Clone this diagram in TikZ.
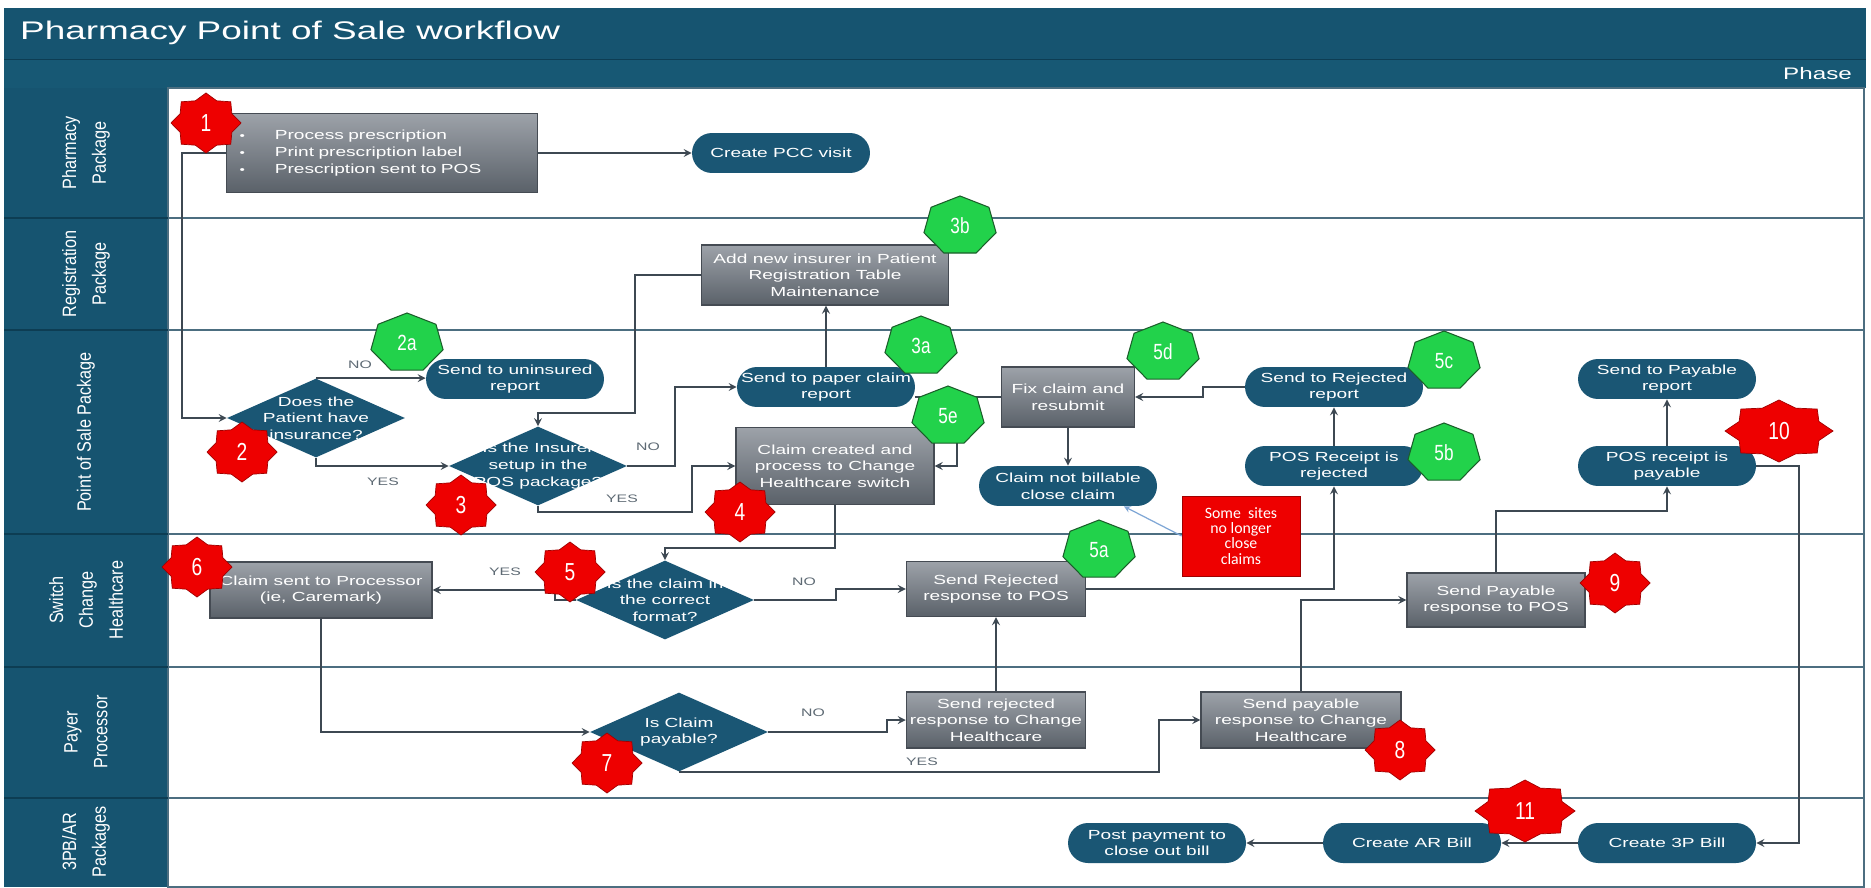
\documentclass[tikz,border=0pt]{standalone}
\usepackage{fontspec}
\setmainfont{Liberation Sans}[FakeStretch=1.45]
\newfontfamily\titlefont{Liberation Sans}[FakeStretch=1.45]
\newfontfamily\lanefont{Liberation Sans}[FakeStretch=0.84]
\newfontfamily\badgefont{Liberation Sans}[FakeStretch=0.78]
\newfontfamily\notefont{Carlito}
\usetikzlibrary{shapes.geometric}

\definecolor{bandteal}{HTML}{165470}
\definecolor{phaseteal}{HTML}{175874}
\definecolor{nodeteal}{HTML}{1A5674}
\definecolor{laneline}{HTML}{4C6E80}
\definecolor{headline}{HTML}{0D3D53}
\definecolor{boxtop}{HTML}{9DA2A9}
\definecolor{boxbot}{HTML}{5A6169}
\definecolor{boxline}{HTML}{454B53}
\definecolor{linec}{HTML}{3D4852}
\definecolor{yesnogray}{HTML}{5E6A74}
\definecolor{badgered}{HTML}{EE0000}
\definecolor{redline}{HTML}{A00000}
\definecolor{badgegreen}{HTML}{22D24B}
\definecolor{greenline}{HTML}{1B5E2A}
\definecolor{notblue}{HTML}{7FA7D6}

\newcommand\flowtext{\fontsize{7.5}{9.5}\selectfont}
\newcommand\flowsmall{\fontsize{6.2}{8}\selectfont}
\newcommand\lanetext{\lanefont\fontsize{11}{17}\selectfont}
\newcommand\titletext{\titlefont\fontsize{14.5}{16}\selectfont}
\newcommand\phasetext{\titlefont\fontsize{9.5}{11}\selectfont}
\newcommand\redtext{\badgefont\fontsize{14}{14}\selectfont}
\newcommand\greentext{\badgefont\fontsize{12.5}{12.5}\selectfont}
\newcommand\notetext{\notefont\fontsize{9}{8.6}\selectfont}
\newcommand\pbullet{{\fontsize{6}{6}\selectfont\textbullet}\hspace{0.6cm}}

% red 8 point star: name, centre, x radius, y radius, number
\newcommand\redstar[5]{%
  \fill[badgered, draw=redline, line width=0.4pt, shift={(#2)}] (270:#3 and #4)
    \foreach \k [evaluate=\k as \ang using {270+\k*22.5},
                 evaluate=\k as \fr using {1-0.2*mod(\k,2)}] in {1,...,15}
      { -- (\ang:\fr*#3 and \fr*#4) } -- cycle;
  \node[text=white, font=\redtext] (#1) at (#2) {#5};}

% green heptagon: name, centre, text
\newcommand\greenhept[3]{%
  \fill[badgegreen, draw=greenline, line width=0.6pt, shift={(#2)}] (270:37 and 30)
    \foreach \k [evaluate=\k as \ang using {270+\k*360/7}] in {1,...,6}
      { -- (\ang:37 and 30) } -- cycle;
  \node[text=white, font=\greentext] (#1) at (#2) {#3};}

\begin{document}
\begin{tikzpicture}[x=0.02cm, y=-0.02cm,
    flow/.style={draw=linec, line width=1pt, -stealth},
    plainline/.style={draw=linec, line width=1pt},
    procbox/.style={rectangle, draw=boxline, line width=0.8pt, top color=boxtop,
        bottom color=boxbot, text=white, font=\flowtext, align=center, inner sep=2pt},
    termnode/.style={rectangle, rounded corners=0.4cm, fill=nodeteal, text=white,
        font=\flowtext, align=center, minimum width=3.56cm, minimum height=0.8cm, inner sep=1pt},
    decision/.style={diamond, fill=nodeteal, minimum width=3.56cm, minimum height=1.58cm, inner sep=0pt},
    dectext/.style={text=white, font=\flowtext, align=center},
    yesno/.style={text=yesnogray, font=\flowsmall},
    lanelabel/.style={rotate=90, text=white, font=\lanetext, align=center},
    notebox/.style={rectangle, fill=badgered, draw=redline, line width=0.4pt, text=white,
        font=\notetext, align=center, minimum width=2.36cm, minimum height=1.6cm, inner sep=1pt},
    notearrow/.style={draw=notblue, line width=0.7pt, -stealth}]

    \useasboundingbox (0,0) rectangle (1871,888);
    \fill[white] (0,0) rectangle (1871,888);

    \fill[bandteal] (4,8) rectangle (1866,59);
    \fill[phaseteal] (4,60) rectangle (1866,88);
    \draw[headline, line width=0.8pt] (4,59.5) -- (1866,59.5);
    \fill[bandteal] (4,88) rectangle (168,887);
    \draw[laneline, line width=1.2pt] (168,88) rectangle (1864,887);
    \node[anchor=west, text=white, font=\titletext] (title) at (14,33) {Pharmacy Point of Sale workflow};
    \node[anchor=east, text=white, font=\phasetext] (phase) at (1858,74) {Phase};

    \foreach \yl in {218, 330, 534, 667, 798}
        { \draw[laneline, line width=1.4pt] (168, \yl) -- (1864, \yl);
          \draw[headline, line width=1.4pt] (4, \yl) -- (168, \yl);}

    \foreach \yc/\txt [count=\i] in {153/{Pharmacy\\Package}, 274/{Registration\\Package},
            432/{Point of Sale Package}, 600/{Switch\\Change\\Healthcare},
            732/{Payer\\Processor}, 842/{3PB/AR\\Packages}}
        \node[lanelabel] (lane\i) at (86, \yc) {\txt};

    % Pharmacy Package
    \node[procbox, minimum height=1.58cm, text width=5.7cm, inner xsep=0.26cm, align=left] (presc) at (382,153)
        {\pbullet Process prescription\\ \pbullet Print prescription label\\ \pbullet Prescription sent to POS};
    \node[termnode] (pcc) at (781,153) {Create PCC visit};

    % Registration Package
    \node[procbox, minimum width=4.94cm, minimum height=1.2cm] (newins) at (825,275)
        {Add new insurer in Patient\\Registration Table\\Maintenance};

    % Point of Sale Package
    \node[decision, label={[dectext]center:{Does the\\Patient have\\insurance?}}] (insured) at (316,418) {};
    \node[termnode] (uninsured) at (515,379) {Send to uninsured\\report};
    \node[decision, label={[dectext]center:{Is the Insurer\\setup in the\\POS package?}}] (setup) at (538,466) {};
    \node[termnode] (paper) at (826,387) {Send to paper claim\\report};
    \node[procbox, minimum width=3.96cm, minimum height=1.54cm] (created) at (835,466)
        {Claim created and\\process to Change\\Healthcare switch};
    \node[procbox, minimum width=2.66cm, minimum height=1.2cm] (fix) at (1068,397) {Fix claim and\\resubmit};
    \node[termnode] (notbill) at (1068,486) {Claim not billable\\close claim};
    \node[termnode] (rejrep) at (1334,387) {Send to Rejected\\report};
    \node[termnode] (posrej) at (1334,466) {POS Receipt is\\rejected};
    \node[termnode] (payrep) at (1667,379) {Send to Payable\\report};
    \node[termnode] (payable) at (1667,466) {POS receipt is\\payable};
    \node[notebox] (note) at (1241,536) {Some\ \ sites\\no longer\\close\\claims};

    % Switch Change Healthcare
    \node[procbox, minimum width=4.44cm, minimum height=1.12cm] (sent) at (321,590)
        {Claim sent to Processor\\(ie, Caremark)};
    \node[decision, label={[dectext]center:{Is the claim in\\the correct\\format?}}] (format) at (665,600) {};
    \node[procbox, minimum width=3.58cm, minimum height=1.1cm] (rejresp) at (996,589) {Send Rejected\\response to POS};
    \node[procbox, minimum width=3.56cm, minimum height=1.08cm] (paypos) at (1496,600) {Send Payable\\response to POS};

    % Payer Processor
    \node[decision, label={[dectext]center:{Is Claim\\payable?}}] (claimpay) at (679,732) {};
    \node[procbox, minimum width=3.58cm, minimum height=1.12cm] (rejchg) at (996,720)
        {Send rejected\\response to Change\\Healthcare};
    \node[procbox, minimum width=4cm, minimum height=1.12cm] (paychg) at (1301,720)
        {Send payable\\response to Change\\Healthcare};

    % 3PB/AR Packages
    \node[termnode] (postpay) at (1157,843) {Post payment to\\close out bill};
    \node[termnode] (arbill) at (1412,843) {Create AR Bill};
    \node[termnode] (bill3p) at (1667,843) {Create 3P Bill};

    % connectors
    \draw[flow] (presc.east) -- (presc.east -| pcc.west);
    \draw[flow] (presc.west) -- ++(-44,0) |- (insured.west);
    \draw[flow] (insured.north) -- (insured.north -| uninsured.west);
    \draw[flow] (insured.south) |- (setup.west);
    \draw[flow] (newins.west) -| (635,413) -| (setup.north);
    \draw[flow] (setup.east) -- ++(48,0) |- (paper.west);
    \draw[flow] (setup.south) |- (692,512) |- (created.west);
    \draw[flow] (paper.north) -- (paper.north |- newins.south);
    \draw[plainline] (fix.west) -- (paper.east |- fix.west);
    \draw[flow] (fix.west) -- ++(-44,0) |- (created.east);
    \draw[flow] (fix.south) -- (notbill.north);
    \draw[flow] (rejrep.west) -- ++(-42,0) |- (fix.east);
    \draw[flow] (posrej.north) -- (rejrep.south);
    \draw[flow] (payable.north) -- (payrep.south);
    \draw[notearrow] (note.west) -- (notbill.-20);
    \draw[flow] (created.south) -- ++(0,43) -| (format.north);
    \draw[flow] (format.west) -- ++(-21,0) |- (sent.east);
    \draw[flow] (format.east) -- ++(82,0) |- (rejresp.west);
    \draw[flow] (rejresp.east) -| (posrej.south);
    \draw[flow] (paypos.north) -- ++(0,-61) -| (payable.south);
    \draw[flow] (sent.south) |- (claimpay.west);
    \draw[flow] (claimpay.east) -- ++(119,0) |- (rejchg.west);
    \draw[flow] (claimpay.south) -- ++(480,0) |- (paychg.west);
    \draw[flow] (rejchg.north) -- (rejresp.south);
    \draw[flow] (paychg.north) |- (paypos.west);
    \draw[flow] (payable.east) -- ++(43,0) |- (bill3p.east);
    \draw[flow] (bill3p.west) -- (arbill.east);
    \draw[flow] (arbill.west) -- (postpay.east);

    \node[yesno] (no1) at (360,365) {NO};
    \node[yesno] (yes1) at (383,482) {YES};
    \node[yesno] (no2) at (648,447) {NO};
    \node[yesno] (yes2) at (622,499) {YES};
    \node[yesno] (yes3) at (505,572) {YES};
    \node[yesno] (no3) at (804,582) {NO};
    \node[yesno] (no4) at (813,713) {NO};
    \node[yesno] (yes4) at (922,762) {YES};

    % step badges
    \redstar{s1}{206,123}{35}{30}{1}
    \redstar{s2}{242,452}{35}{30}{2}
    \redstar{s3}{461,505}{35}{30}{3}
    \redstar{s4}{740,512}{35}{30}{4}
    \redstar{s5}{570,572}{35}{30}{5}
    \redstar{s6}{197,567}{35}{30}{6}
    \redstar{s7}{607,763}{35}{30}{7}
    \redstar{s8}{1400,750}{35}{30}{8}
    \redstar{s9}{1615,583}{35}{30}{9}
    \redstar{s10}{1779,431}{54}{31}{10}
    \redstar{s11}{1525,811}{50}{31}{11}

    \greenhept{g2a}{407,343}{2a}
    \greenhept{g3a}{921,346}{3a}
    \greenhept{g3b}{960,226}{3b}
    \greenhept{g5a}{1099,550}{5a}
    \greenhept{g5b}{1444,453}{5b}
    \greenhept{g5c}{1444,361}{5c}
    \greenhept{g5d}{1163,352}{5d}
    \greenhept{g5e}{948,416}{5e}

\end{tikzpicture}
\end{document}
